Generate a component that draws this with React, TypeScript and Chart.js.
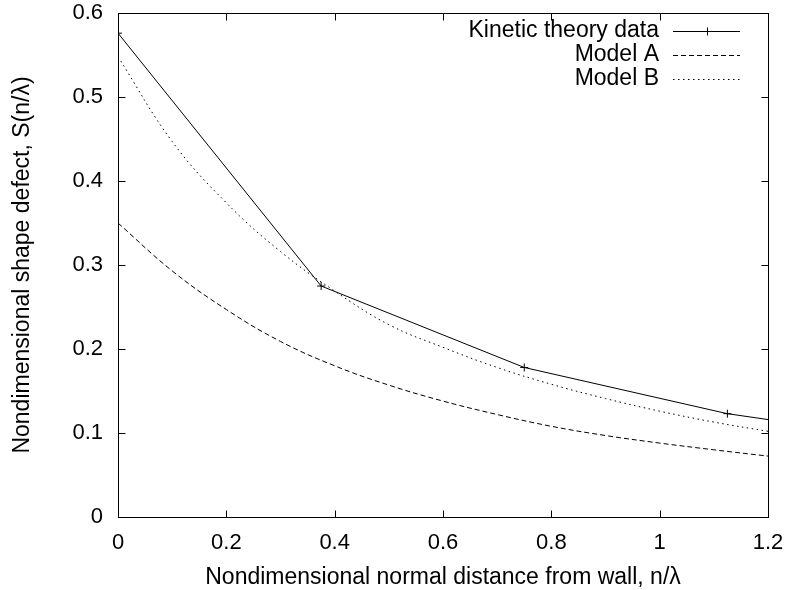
import React, { useEffect, useRef } from 'react';
import { Chart, registerables } from 'chart.js';

Chart.register(...registerables);

// ---- data ----
const kineticX = [0, 0.375, 0.75, 1.125, 1.5];
const kineticY = [0.576, 0.275, 0.178, 0.123, 0.088];

const modelX = [0, 0.1, 0.2, 0.3, 0.4, 0.5, 0.6, 0.7, 0.8, 0.9, 1.0, 1.1, 1.2];
const modelAY = [0.35, 0.293, 0.247, 0.209, 0.18, 0.157, 0.138, 0.122, 0.108, 0.097, 0.088, 0.08, 0.0725];
const modelBY = [0.548, 0.447, 0.374, 0.316, 0.269, 0.229, 0.202, 0.178, 0.158, 0.141, 0.126, 0.113, 0.102];

const xTicks = [0, 0.2, 0.4, 0.6, 0.8, 1, 1.2];
const yTicks = [0, 0.1, 0.2, 0.3, 0.4, 0.5, 0.6];

const seriesLabels = ['Kinetic theory data', 'Model A', 'Model B'];
const xTitle = 'Nondimensional normal distance from wall, n/\u03bb';
const yTitle = 'Nondimensional shape defect, S(n/\u03bb)';

const FONT = '"Liberation Sans", Arial, Helvetica, sans-serif';
const TICK_FS = 22;
const TITLE_FS = 23;

const fmt = (v: any) => String(+Number(v).toFixed(2));

const framePlugin = {
  id: 'gnuFrame',
  afterDatasetsDraw(chart: any) {
    const { ctx, chartArea, scales } = chart;
    const { left, right, top, bottom } = chartArea;
    const L = Math.round(left) + 0.5;
    const R = Math.round(right) + 0.5;
    const T = Math.round(top) + 0.5;
    const B = Math.round(bottom) + 0.5;
    ctx.save();
    ctx.strokeStyle = '#000';
    ctx.lineWidth = 1;
    ctx.setLineDash([]);
    ctx.strokeRect(L, T, R - L, B - T);
    const tl = 7;
    ctx.beginPath();
    xTicks.forEach((v) => {
      const px = Math.round(scales.x.getPixelForValue(v)) + 0.5;
      ctx.moveTo(px, B);
      ctx.lineTo(px, B - tl);
      ctx.moveTo(px, T);
      ctx.lineTo(px, T + tl);
    });
    yTicks.forEach((v) => {
      const py = Math.round(scales.y.getPixelForValue(v)) + 0.5;
      ctx.moveTo(L, py);
      ctx.lineTo(L + tl, py);
      ctx.moveTo(R, py);
      ctx.lineTo(R - tl, py);
    });
    ctx.stroke();

    // gnuplot-style key: right-aligned text, sample line on the right
    const textRight = right - 109;
    const sampleStart = right - 95;
    const sampleEnd = right - 28;
    chart.data.datasets.forEach((ds: any, i: number) => {
      const cy = top + 18 + i * 24;
      ctx.fillStyle = '#000';
      ctx.font = `${TITLE_FS}px ${FONT}`;
      ctx.textAlign = 'right';
      ctx.textBaseline = 'middle';
      ctx.fillText(ds.label, textRight, cy);
      ctx.strokeStyle = ds.borderColor;
      ctx.lineWidth = ds.borderWidth;
      ctx.setLineDash(ds.borderDash || []);
      const ly = Math.round(cy) + 0.5;
      ctx.beginPath();
      ctx.moveTo(sampleStart, ly);
      ctx.lineTo(sampleEnd, ly);
      ctx.stroke();
      if (ds.pointRadius > 0) {
        ctx.setLineDash([]);
        const cx = Math.round((sampleStart + sampleEnd) / 2) + 0.5;
        const r = ds.pointRadius;
        ctx.beginPath();
        ctx.moveTo(cx - r, ly);
        ctx.lineTo(cx + r, ly);
        ctx.moveTo(cx, ly - r);
        ctx.lineTo(cx, ly + r);
        ctx.stroke();
      }
    });
    ctx.restore();
  },
};

export default function App() {
  const ref = useRef<HTMLCanvasElement | null>(null);

  useEffect(() => {
    if (!ref.current) return;
    const chart = new Chart(ref.current, {
      type: 'line',
      data: {
        datasets: [
          {
            label: seriesLabels[0],
            data: kineticX.map((x, i) => ({ x, y: kineticY[i] })),
            borderColor: '#000',
            borderWidth: 1,
            pointStyle: 'cross',
            pointRadius: 4,
            pointBorderColor: '#000',
            pointBorderWidth: 1,
            pointHoverRadius: 4,
            tension: 0,
            fill: false,
          },
          {
            label: seriesLabels[1],
            data: modelX.map((x, i) => ({ x, y: modelAY[i] })),
            borderColor: '#000',
            borderWidth: 1,
            borderDash: [5, 3],
            pointRadius: 0,
            tension: 0.4,
            fill: false,
          },
          {
            label: seriesLabels[2],
            data: modelX.map((x, i) => ({ x, y: modelBY[i] })),
            borderColor: '#000',
            borderWidth: 1,
            borderDash: [1.5, 3.5],
            pointRadius: 0,
            tension: 0.4,
            fill: false,
          },
        ],
      } as any,
      options: {
        animation: false,
        responsive: false,
        maintainAspectRatio: false,
        layout: { padding: { top: 13, right: 24, left: 0, bottom: 0 } },
        plugins: {
          legend: { display: false },
          tooltip: { enabled: false },
        },
        scales: {
          x: {
            type: 'linear',
            min: 0,
            max: 1.2,
            afterBuildTicks: (s: any) => {
              s.ticks = xTicks.map((v) => ({ value: v }));
            },
            afterFit: (s: any) => {
              s.height = 73;
              s.paddingLeft = 0;
              s.paddingRight = 0;
            },
            grid: { display: false, drawTicks: false },
            border: { display: false },
            ticks: {
              padding: 13,
              color: '#000',
              font: { family: FONT, size: TICK_FS },
              maxRotation: 0,
              autoSkip: false,
              callback: fmt,
            },
            title: {
              display: true,
              text: xTitle,
              color: '#000',
              font: { family: FONT, size: TITLE_FS, lineHeight: 1.1 },
              padding: { top: 1, bottom: 0 },
            },
          },
          y: {
            type: 'linear',
            min: 0,
            max: 0.6,
            afterBuildTicks: (s: any) => {
              s.ticks = yTicks.map((v) => ({ value: v }));
            },
            afterFit: (s: any) => {
              s.width = 118;
              s.paddingTop = 0;
              s.paddingBottom = 0;
            },
            grid: { display: false, drawTicks: false },
            border: { display: false },
            ticks: {
              padding: 15,
              color: '#000',
              font: { family: FONT, size: TICK_FS },
              autoSkip: false,
              callback: fmt,
            },
            title: {
              display: true,
              text: yTitle,
              color: '#000',
              font: { family: FONT, size: TITLE_FS, lineHeight: 1.1 },
              padding: { top: 10, bottom: 0 },
            },
          },
        },
      } as any,
      plugins: [framePlugin],
    });
    return () => chart.destroy();
  }, []);

  return (
    <div style={{ position: 'absolute', left: 0, top: 0, width: 792, height: 590, background: '#fff' }}>
      <canvas ref={ref} width={792} height={590} style={{ display: 'block' }} />
    </div>
  );
}
